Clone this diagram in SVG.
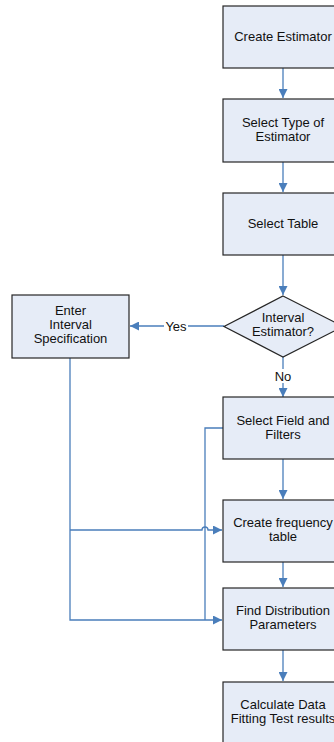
<svg xmlns="http://www.w3.org/2000/svg" width="334" height="742" viewBox="0 0 334 742">
  <style>
    .box { fill: #e6ecf7; stroke: #262626; stroke-width: 1.2; }
    .lbl { font-family: "Liberation Sans", Arial, sans-serif; font-size: 13px; fill: #111; text-anchor: middle; }
    .conn { fill: none; stroke: #4a7ebb; stroke-width: 1.3; }
    .tag { font-family: "Liberation Sans", Arial, sans-serif; font-size: 13px; fill: #111; text-anchor: middle; }
  </style>
  <defs>
    <marker id="arrow" viewBox="0 0 10 10" refX="10" refY="5" markerWidth="9" markerHeight="9" markerUnits="userSpaceOnUse" orient="auto">
      <path d="M0,0 L10,5 L0,10 Z" fill="#4a7ebb"/>
    </marker>
  </defs>
  <rect width="334" height="742" fill="#ffffff"/>

  <!-- connectors -->
  <g id="connectors">
    <path class="conn" d="M283,68 V98" marker-end="url(#arrow)"/>
    <path class="conn" d="M283,162 V192" marker-end="url(#arrow)"/>
    <path class="conn" d="M283,255 V295" marker-end="url(#arrow)"/>
    <path class="conn" d="M283,357 V397" marker-end="url(#arrow)"/>
    <path class="conn" d="M224,326 H130" marker-end="url(#arrow)"/>
    <path class="conn" d="M283,459 V499" marker-end="url(#arrow)"/>
    <path class="conn" d="M283,562 V587" marker-end="url(#arrow)"/>
    <path class="conn" d="M283,650 V681" marker-end="url(#arrow)"/>
    <!-- interval specification feeds frequency table and parameters -->
    <path class="conn" d="M70,358 V620 H222" marker-end="url(#arrow)"/>
    <path class="conn" d="M70,530 H202 A3,3 0 0 1 208,530 H222" marker-end="url(#arrow)"/>
    <!-- field selection bypass to parameters -->
    <path class="conn" d="M223,428 H205 V620"/>
    <rect x="164" y="320" width="24" height="14" fill="#ffffff"/>
    <text class="tag" x="176" y="331">Yes</text>
    <rect x="272" y="369" width="22" height="14" fill="#ffffff"/>
    <text class="tag" x="283" y="381">No</text>
  </g>

  <g id="create-estimator">
    <rect class="box" x="223" y="6" width="120" height="62"/>
    <text class="lbl" x="283" y="41">Create Estimator</text>
  </g>
  <g id="select-type">
    <rect class="box" x="223" y="99" width="120" height="63"/>
    <text class="lbl" x="283" y="127">Select Type of</text>
    <text class="lbl" x="283" y="141">Estimator</text>
  </g>
  <g id="select-table">
    <rect class="box" x="223" y="193" width="120" height="62"/>
    <text class="lbl" x="283" y="228">Select Table</text>
  </g>
  <g id="interval-decision">
    <path class="box" d="M283,296 L343,326.5 L283,357 L224,326.5 Z"/>
    <text class="lbl" x="283" y="322">Interval</text>
    <text class="lbl" x="283" y="336">Estimator?</text>
  </g>
  <g id="enter-interval">
    <rect class="box" x="12" y="295" width="117" height="63"/>
    <text class="lbl" x="70.5" y="315">Enter</text>
    <text class="lbl" x="70.5" y="329">Interval</text>
    <text class="lbl" x="70.5" y="343">Specification</text>
  </g>
  <g id="select-field">
    <rect class="box" x="223" y="397" width="120" height="62"/>
    <text class="lbl" x="283" y="425">Select Field and</text>
    <text class="lbl" x="283" y="439">Filters</text>
  </g>
  <g id="frequency-table">
    <rect class="box" x="223" y="500" width="120" height="62"/>
    <text class="lbl" x="283" y="527">Create frequency</text>
    <text class="lbl" x="283" y="541">table</text>
  </g>
  <g id="distribution-parameters">
    <rect class="box" x="223" y="588" width="120" height="62"/>
    <text class="lbl" x="283" y="615">Find Distribution</text>
    <text class="lbl" x="283" y="629">Parameters</text>
  </g>
  <g id="fitting-test">
    <rect class="box" x="223" y="682" width="120" height="70"/>
    <text class="lbl" x="283" y="709">Calculate Data</text>
    <text class="lbl" x="283" y="723">Fitting Test results</text>
  </g>
</svg>
